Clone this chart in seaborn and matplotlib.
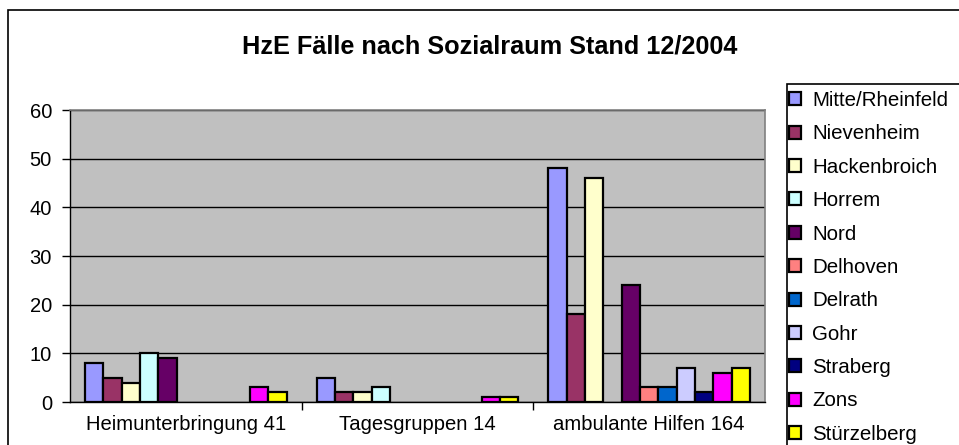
import pandas as pd
import matplotlib.pyplot as plt
import seaborn as sns
from matplotlib.patches import Rectangle

# Daten
kategorien = ["Heimunterbringung 41", "Tagesgruppen 14", "ambulante Hilfen 164"]
sozialraeume = ["Mitte/Rheinfeld", "Nievenheim", "Hackenbroich", "Horrem", "Nord",
                "Delhoven", "Delrath", "Gohr", "Straberg", "Zons", "Stürzelberg"]
heim = [8, 5, 4, 10, 9, 0, 0, 0, 0, 3, 2]
tages = [5, 2, 2, 3, 0, 0, 0, 0, 0, 1, 1]
ambulant = [48, 18, 46, 0, 24, 3, 3, 7, 2, 6, 7]
farben = ["#9999FF", "#993366", "#FFFFCC", "#CCFFFF", "#660066", "#FF8080",
          "#0066CC", "#CCCCFF", "#000080", "#FF00FF", "#FFFF00"]

rows = []
for kat, werte in zip(kategorien, [heim, tages, ambulant]):
    for raum, w in zip(sozialraeume, werte):
        rows.append({"Kategorie": kat, "Sozialraum": raum, "Faelle": w})
df = pd.DataFrame(rows)

plt.rcParams["font.family"] = ["Liberation Sans", "DejaVu Sans"]

W, H = 959, 445
fig = plt.figure(figsize=(W / 100, H / 100), dpi=100)
ax = fig.add_axes([70 / W, 1 - 402 / H, 695 / W, 292 / H])

sns.barplot(data=df, x="Kategorie", y="Faelle", hue="Sozialraum",
            order=kategorien, hue_order=sozialraeume, palette=farben,
            width=0.87, edgecolor="black", linewidth=1.6, errorbar=None,
            saturation=1, ax=ax)

# leere Balken ausblenden (wie in Excel)
for p in ax.patches:
    if p.get_height() == 0:
        p.set_visible(False)

ax.set_facecolor("#C0C0C0")
ax.set_ylim(0, 60)
ax.set_xlim(-0.5, 2.5)
ax.set_yticks(range(0, 61, 10))
ax.yaxis.grid(True, color="black", linewidth=1)
ax.set_axisbelow(True)
ax.set_xlabel("")
ax.set_ylabel("")

for s in ["top", "right"]:
    ax.spines[s].set_color("#808080")
    ax.spines[s].set_linewidth(1.2)
for s in ["left", "bottom"]:
    ax.spines[s].set_color("black")
    ax.spines[s].set_linewidth(1)

ax.tick_params(axis="y", length=6, width=1, pad=7, labelsize=14.5)
ax.tick_params(axis="x", which="major", length=0, pad=9, labelsize=14.6)
ax.set_xticks([0.5, 1.5], minor=True)
ax.tick_params(axis="x", which="minor", length=6, width=1)

fig.suptitle("HzE Fälle nach Sozialraum Stand 12/2004", x=490 / W, y=1 - 34 / H,
             fontsize=18.2, fontweight="bold", va="top")

sns.move_legend(ax, loc="upper left", bbox_to_anchor=(789 / W, 1 - 91 / H),
                bbox_transform=fig.transFigure, frameon=False, title=None,
                fontsize=14.8, handlelength=0.6, handleheight=0.6,
                handletextpad=0.52, labelspacing=0.7, borderpad=0,
                borderaxespad=0)

# Rahmen
fig.patches.append(Rectangle((8 / W, -0.1), 1.2, 1 - 10 / H + 0.1,
                             transform=fig.transFigure, fill=False,
                             edgecolor="black", linewidth=1.2))
fig.patches.append(Rectangle((787 / W, -0.1), 0.5, 1 - 84 / H + 0.1,
                             transform=fig.transFigure, fill=False,
                             edgecolor="black", linewidth=1.2))

fig.savefig("out.png", dpi=100)
